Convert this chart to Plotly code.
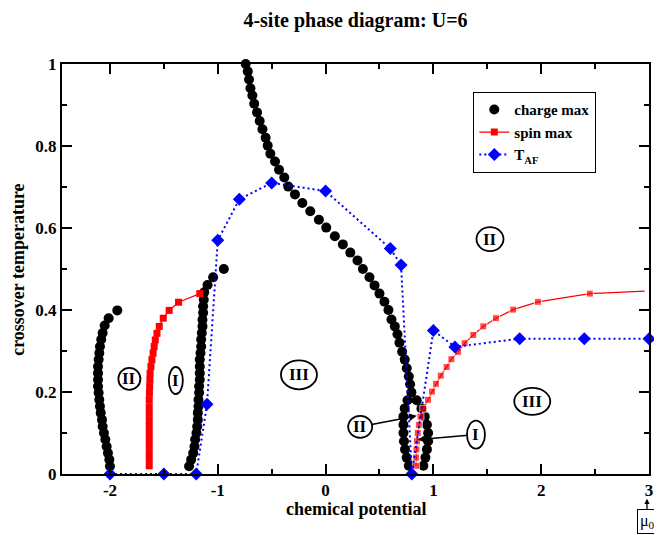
import plotly.graph_objects as go

# ---------------- data ----------------
# charge max (black circles), several branches
charge_a_x = [-1.932, -2.012, -2.049, -2.068, -2.081, -2.093, -2.099, -2.105, -2.111, -2.111,
              -2.111, -2.111, -2.105, -2.099, -2.093, -2.086, -2.074, -2.068, -2.056, -2.043,
              -2.031, -2.019, -2.006, -2.000]
charge_a_y = [0.399, 0.380, 0.362, 0.344, 0.328, 0.311, 0.295, 0.279, 0.262, 0.246,
              0.230, 0.214, 0.198, 0.181, 0.165, 0.149, 0.132, 0.116, 0.100, 0.084,
              0.067, 0.051, 0.035, 0.019]

charge_b_x = [-0.944, -1.043, -1.095, -1.126, -1.130, -1.136, -1.136, -1.142, -1.142, -1.148,
              -1.154, -1.154, -1.160, -1.167, -1.167, -1.167, -1.167, -1.173, -1.173, -1.179,
              -1.179, -1.185, -1.185, -1.191, -1.198, -1.210, -1.216, -1.228, -1.247, -1.266]
charge_b_y = [0.500, 0.480, 0.461, 0.443, 0.425, 0.409, 0.393, 0.376, 0.360, 0.344,
              0.328, 0.311, 0.295, 0.279, 0.262, 0.246, 0.230, 0.214, 0.198, 0.181,
              0.165, 0.149, 0.132, 0.116, 0.100, 0.084, 0.067, 0.051, 0.035, 0.019]

charge_c_x = [-0.741, -0.722, -0.710, -0.697, -0.679, -0.662, -0.636, -0.611, -0.586, -0.556,
              -0.537, -0.512, -0.469, -0.432, -0.383, -0.346, -0.284, -0.216, -0.142, -0.062,
              0.006, 0.086, 0.160, 0.229, 0.296, 0.346, 0.407, 0.454, 0.500, 0.546,
              0.583, 0.611, 0.642, 0.667, 0.685, 0.710, 0.734, 0.753, 0.772, 0.784,
              0.796]
charge_c_y = [1.000, 0.982, 0.962, 0.941, 0.923, 0.903, 0.882, 0.861, 0.841, 0.820,
              0.801, 0.781, 0.762, 0.742, 0.723, 0.701, 0.682, 0.661, 0.641, 0.620,
              0.601, 0.580, 0.560, 0.540, 0.521, 0.500, 0.480, 0.460, 0.440, 0.420,
              0.400, 0.377, 0.360, 0.341, 0.320, 0.298, 0.279, 0.258, 0.238, 0.219,
              0.199]

charge_d_x = [0.760, 0.734, 0.722, 0.722, 0.722, 0.727, 0.737, 0.752, 0.772]
charge_d_y = [0.180, 0.160, 0.140, 0.120, 0.100, 0.080, 0.060, 0.040, 0.020]

charge_e_x = [0.845, 0.889, 0.920, 0.940, 0.951, 0.951, 0.940, 0.926, 0.907]
charge_e_y = [0.180, 0.160, 0.140, 0.120, 0.100, 0.080, 0.060, 0.040, 0.020]

# spin max (red squares)
spin_left_x = [-1.636, -1.636, -1.636, -1.636, -1.636, -1.636, -1.636, -1.636, -1.636, -1.636,
               -1.636, -1.634, -1.632, -1.630, -1.628, -1.620, -1.611, -1.600, -1.590, -1.580,
               -1.564, -1.543, -1.506, -1.451, -1.364, -1.167]
spin_left_y = [0.020, 0.036, 0.052, 0.068, 0.084, 0.100, 0.116, 0.132, 0.148, 0.164,
               0.181, 0.197, 0.213, 0.229, 0.245, 0.262, 0.279, 0.295, 0.311, 0.327,
               0.343, 0.360, 0.380, 0.399, 0.419, 0.440]

spin_right_x = [0.838, 0.840, 0.843, 0.848, 0.855, 0.865, 0.880, 0.907, 0.950, 0.987,
                1.024, 1.068, 1.123, 1.167, 1.229, 1.290, 1.370, 1.463, 1.580, 1.741,
                1.969, 2.451, 2.960]
spin_right_y = [0.020, 0.040, 0.060, 0.080, 0.100, 0.120, 0.140, 0.159, 0.181, 0.201,
                0.220, 0.240, 0.261, 0.280, 0.298, 0.319, 0.339, 0.360, 0.380, 0.401,
                0.420, 0.440, 0.446]

# T_AF (blue diamonds, dotted)
taf_x = [-2.0, -1.5, -1.2, -1.1, -1.0, -0.8, -0.5, 0.0, 0.6, 0.7, 0.8, 1.0, 1.2, 1.8, 2.4, 3.0]
taf_y = [0.0, 0.0, 0.0, 0.17, 0.57, 0.67, 0.71, 0.69, 0.55, 0.51, 0.0, 0.35, 0.31, 0.33, 0.33, 0.33]

# axis ticks
x_tickvals = [-2, -1, 0, 1, 2, 3]
x_ticktext = ["-2", "-1", "0", "1", "2", "3"]
y_tickvals = [0, 0.2, 0.4, 0.6, 0.8, 1.0]
y_ticktext = ["0", "0.2", "0.4", "0.6", "0.8", "1"]

# region labels (text, centre); the last two carry arrows pointing at the given targets
region_text = ["II", "I", "III", "II", "III", "II", "I"]
region_x = [-1.82, -1.389, -0.247, 1.525, 1.917, 0.321, 1.395]
region_y = [0.232, 0.228, 0.242, 0.573, 0.177, 0.115, 0.096]
arrow_tx = [None, None, None, None, None, 0.845, 0.855]
arrow_ty = [None, None, None, None, None, 0.142, 0.084]

# ---------------- figure ----------------
FONT = "Liberation Serif"
OFF = 8                      # page body margin of the browser
SW, SH = 662, 535            # screen size
W, H = SW - OFF, SH - OFF    # figure size
# plot area in screen pixels
PX0, PX1, PY0, PY1 = 62, 649, 64, 474.3
ML, MT = PX0 - OFF, PY0 - OFF
MR = W - (PX1 - OFF)
MB = H - (PY1 - OFF)
PW, PH = PX1 - PX0, PY1 - PY0


def scr2paper(px, py):
    """screen pixel -> paper coords"""
    return (px - PX0) / PW, (PY1 - py) / PH


fig = go.Figure()

charge_x = charge_a_x + charge_b_x + charge_c_x + charge_d_x + charge_e_x
charge_y = charge_a_y + charge_b_y + charge_c_y + charge_d_y + charge_e_y
fig.add_trace(go.Scatter(x=charge_x, y=charge_y, mode="markers", name="charge max",
                         marker=dict(symbol="circle", size=10, color="black"),
                         cliponaxis=False))

fig.add_trace(go.Scatter(x=spin_left_x, y=spin_left_y, mode="lines+markers", name="spin max",
                         line=dict(color="red", width=1.3),
                         marker=dict(symbol="square", size=7, color="red"),
                         legendgroup="spin", showlegend=True))
spin_sizes = [7] * (len(spin_right_x) - 1) + [0]
fig.add_trace(go.Scatter(x=spin_right_x, y=spin_right_y, mode="lines+markers", name="spin max",
                         line=dict(color="red", width=1.3),
                         marker=dict(symbol="square", size=spin_sizes, color="red"),
                         legendgroup="spin", showlegend=False))

fig.add_trace(go.Scatter(x=taf_x, y=taf_y, mode="lines+markers", name="T<sub>AF</sub>",
                         line=dict(color="blue", width=2, dash="2px,3px"),
                         marker=dict(symbol="diamond", size=10, color="blue"),
                         cliponaxis=False))

# region ellipses + labels
ell_w = [22, 14, 36, 27, 36, 24, 18]
ell_h = [22, 27, 29, 24, 27, 22, 28]
label_font = dict(family=FONT, size=17, color="black", weight="bold")
for t, x, y, w, h, tx_, ty_ in zip(region_text, region_x, region_y, ell_w, ell_h, arrow_tx, arrow_ty):
    fig.add_shape(type="circle", xref="x", yref="y", xsizemode="pixel", ysizemode="pixel",
                  xanchor=x, yanchor=y, x0=-w / 2, x1=w / 2, y0=-h / 2, y1=h / 2,
                  line=dict(color="black", width=1.8))
    if tx_ is None:
        fig.add_annotation(x=x, y=y, xref="x", yref="y", text=t, showarrow=False, font=label_font)
    else:
        fig.add_annotation(x=tx_, y=ty_, ax=x, ay=y, xref="x", yref="y", axref="x", ayref="y",
                           text=t, showarrow=True, arrowhead=2, arrowwidth=1.5, arrowsize=1,
                           arrowcolor="black", standoff=0, startstandoff=3, font=label_font)

# axis titles
tx, ty = scr2paper((PX0 + PX1) / 2, 509)
fig.add_annotation(x=tx, y=ty, xref="paper", yref="paper", xanchor="center", yanchor="middle",
                   text="chemical potential", showarrow=False,
                   font=dict(family=FONT, size=18, color="black", weight="bold"))
tx, ty = scr2paper(18, 270)
fig.add_annotation(x=tx, y=ty, xref="paper", yref="paper", xanchor="center", yanchor="middle",
                   text="crossover temperature", showarrow=False, textangle=-90,
                   font=dict(family=FONT, size=18, color="black", weight="bold"))

# mu_0 box with a short arrow pointing up at the last x tick label
axp, ayp = scr2paper(647, 499)
fig.add_annotation(x=axp, y=ayp, xref="paper", yref="paper", ax=0, ay=23,
                   text="μ<sub>0</sub>", showarrow=True, arrowhead=2, arrowwidth=1.3,
                   arrowsize=0.8, arrowcolor="black", standoff=0,
                   bordercolor="black", borderwidth=1, borderpad=2,
                   font=dict(family=FONT, size=16, color="black"))

axis_common = dict(showline=True, linecolor="black", linewidth=2, mirror="ticks",
                   ticks="inside", tickcolor="black", tickwidth=1.5, ticklen=10,
                   showgrid=False, zeroline=False, automargin=False,
                   tickfont=dict(family=FONT, size=17, color="black", weight="bold"))

lx, ly = scr2paper(473, 92)
fig.update_layout(
    width=W, height=H,
    margin=dict(l=ML, r=MR, t=MT, b=MB, autoexpand=False),
    paper_bgcolor="white", plot_bgcolor="white",
    title=dict(text="4-site phase diagram: U=6", x=((PX0 + PX1) / 2 - OFF) / W, xanchor="center",
               y=1 - (19.5 - OFF) / H, yanchor="middle",
               font=dict(family=FONT, size=20, color="black", weight="bold")),
    xaxis=dict(range=[-2.445, 3], tickvals=x_tickvals, ticktext=x_ticktext,
               minor=dict(dtick=0.5, tick0=0, ticks="inside", ticklen=5, tickcolor="black", tickwidth=1.5),
               **axis_common),
    yaxis=dict(range=[0, 1], tickvals=y_tickvals, ticktext=y_ticktext,
               minor=dict(dtick=0.1, tick0=0, ticks="inside", ticklen=5, tickcolor="black", tickwidth=1.5),
               **axis_common),
    legend=dict(x=lx, y=ly, xanchor="left", yanchor="top",
                bordercolor="black", borderwidth=1.3, bgcolor="white",
                font=dict(family=FONT, size=15, color="black", weight="bold"),
                tracegroupgap=0),
    showlegend=True,
)

fig.write_html("out.html")
